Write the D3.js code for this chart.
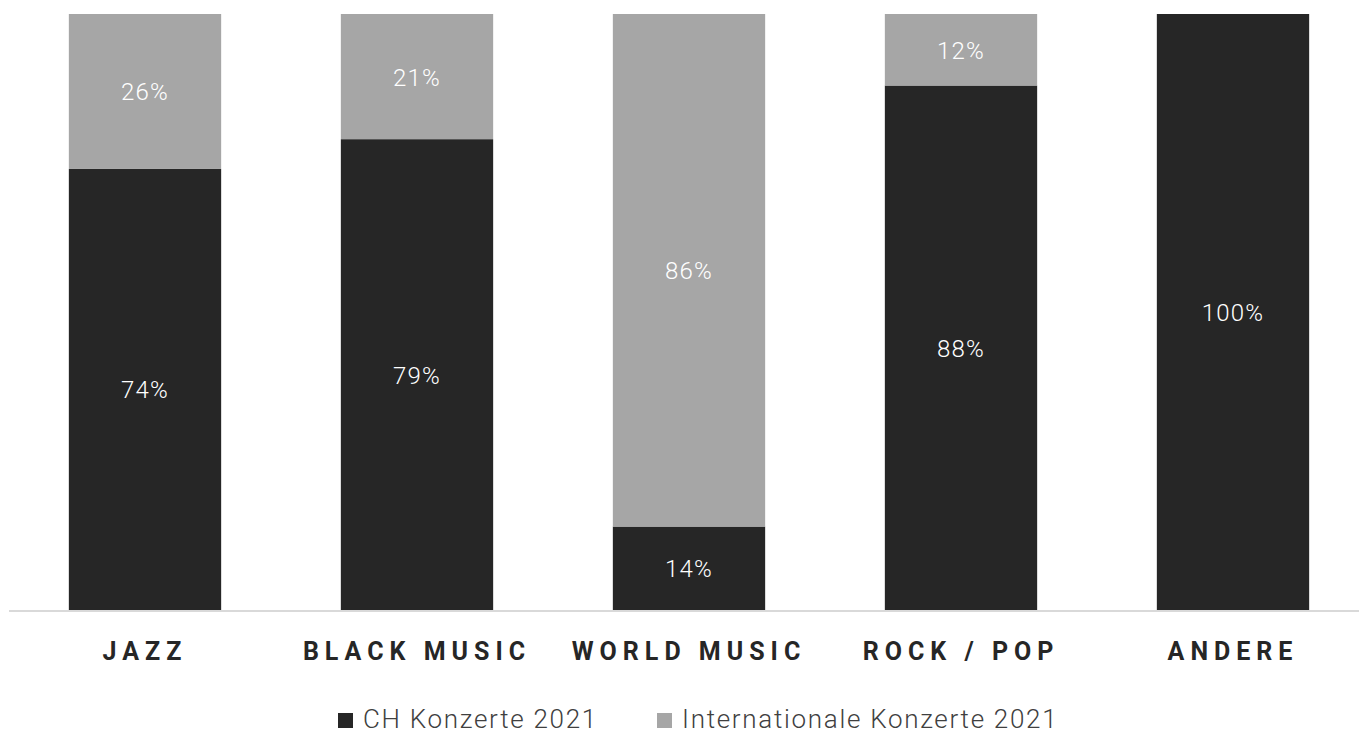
<!DOCTYPE html>
<html><head><meta charset="utf-8">
<script src="https://cdn.jsdelivr.net/npm/d3@7"></script>
<style>html,body{margin:0;padding:0;background:#fff;overflow:hidden}</style>
</head><body>
<svg id="chart" width="1359" height="733"></svg>
<script>
const categories = ["JAZZ", "BLACK MUSIC", "WORLD MUSIC", "ROCK / POP", "ANDERE"];
const seriesNames = ["CH Konzerte 2021", "Internationale Konzerte 2021"];
const chValues = [74, 79, 14, 88, 100];
const intValues = [26, 21, 86, 12, 0];
const colors = ["#262626", "#a6a6a6"];

const svg = d3.select("#chart");
const x = d3.scaleBand().domain(categories).range([9, 1369]).paddingInner(0.44).paddingOuter(0.22);
const y = d3.scaleLinear().domain([0, 100]).range([610, 14]);

const rows = categories.map((c, i) => ({cat: c, ch: chValues[i], int: intValues[i]}));
const stack = d3.stack().keys(["ch", "int"])(rows);

const g = svg.append("g");
stack.forEach((layer, li) => {
  g.selectAll(null).data(layer).join("rect")
    .attr("x", d => x(d.data.cat))
    .attr("width", x.bandwidth())
    .attr("y", d => y(d[1]))
    .attr("height", d => y(d[0]) - y(d[1]))
    .attr("fill", colors[li]);
  g.selectAll(null).data(layer.filter(d => d[1] - d[0] > 0)).join("text")
    .attr("x", d => x(d.data.cat) + x.bandwidth() / 2)
    .attr("y", d => (y(d[0]) + y(d[1])) / 2 + 1)
    .attr("text-anchor", "middle")
    .attr("dominant-baseline", "central")
    .attr("fill", "#ffffff")
    .attr("font-family", "Roboto")
    .attr("font-weight", 300)
    .attr("font-size", 24)
    .attr("letter-spacing", "1.2px")
    .text(d => (d[1] - d[0]) + "%");
});

// baseline axis
const axis = d3.axisBottom(x).tickSize(0).tickPadding(0);
const ax = svg.append("g").attr("transform", "translate(0,611)").call(axis);
ax.select(".domain").attr("stroke", "#d9d9d9").attr("stroke-width", 2).attr("d", "M9,0H1369");
ax.selectAll(".tick text")
  .attr("y", 49)
  .attr("dy", null)
  .attr("font-family", "Roboto")
  .attr("font-weight", 700)
  .attr("font-size", 25)
  .attr("letter-spacing", "6px")
  .attr("fill", "#262626");

// legend
const legend = svg.append("g");
const legendX = [338, 657];
seriesNames.forEach((name, i) => {
  legend.append("rect").attr("x", legendX[i]).attr("y", 713).attr("width", 15).attr("height", 15).attr("fill", colors[i]);
  legend.append("text").attr("x", legendX[i] + 25).attr("y", 728)
    .attr("font-family", "Roboto").attr("font-weight", 300).attr("font-size", 26)
    .attr("letter-spacing", "1.7px")
    .attr("fill", "#404040").text(name);
});
</script>
</body></html>
